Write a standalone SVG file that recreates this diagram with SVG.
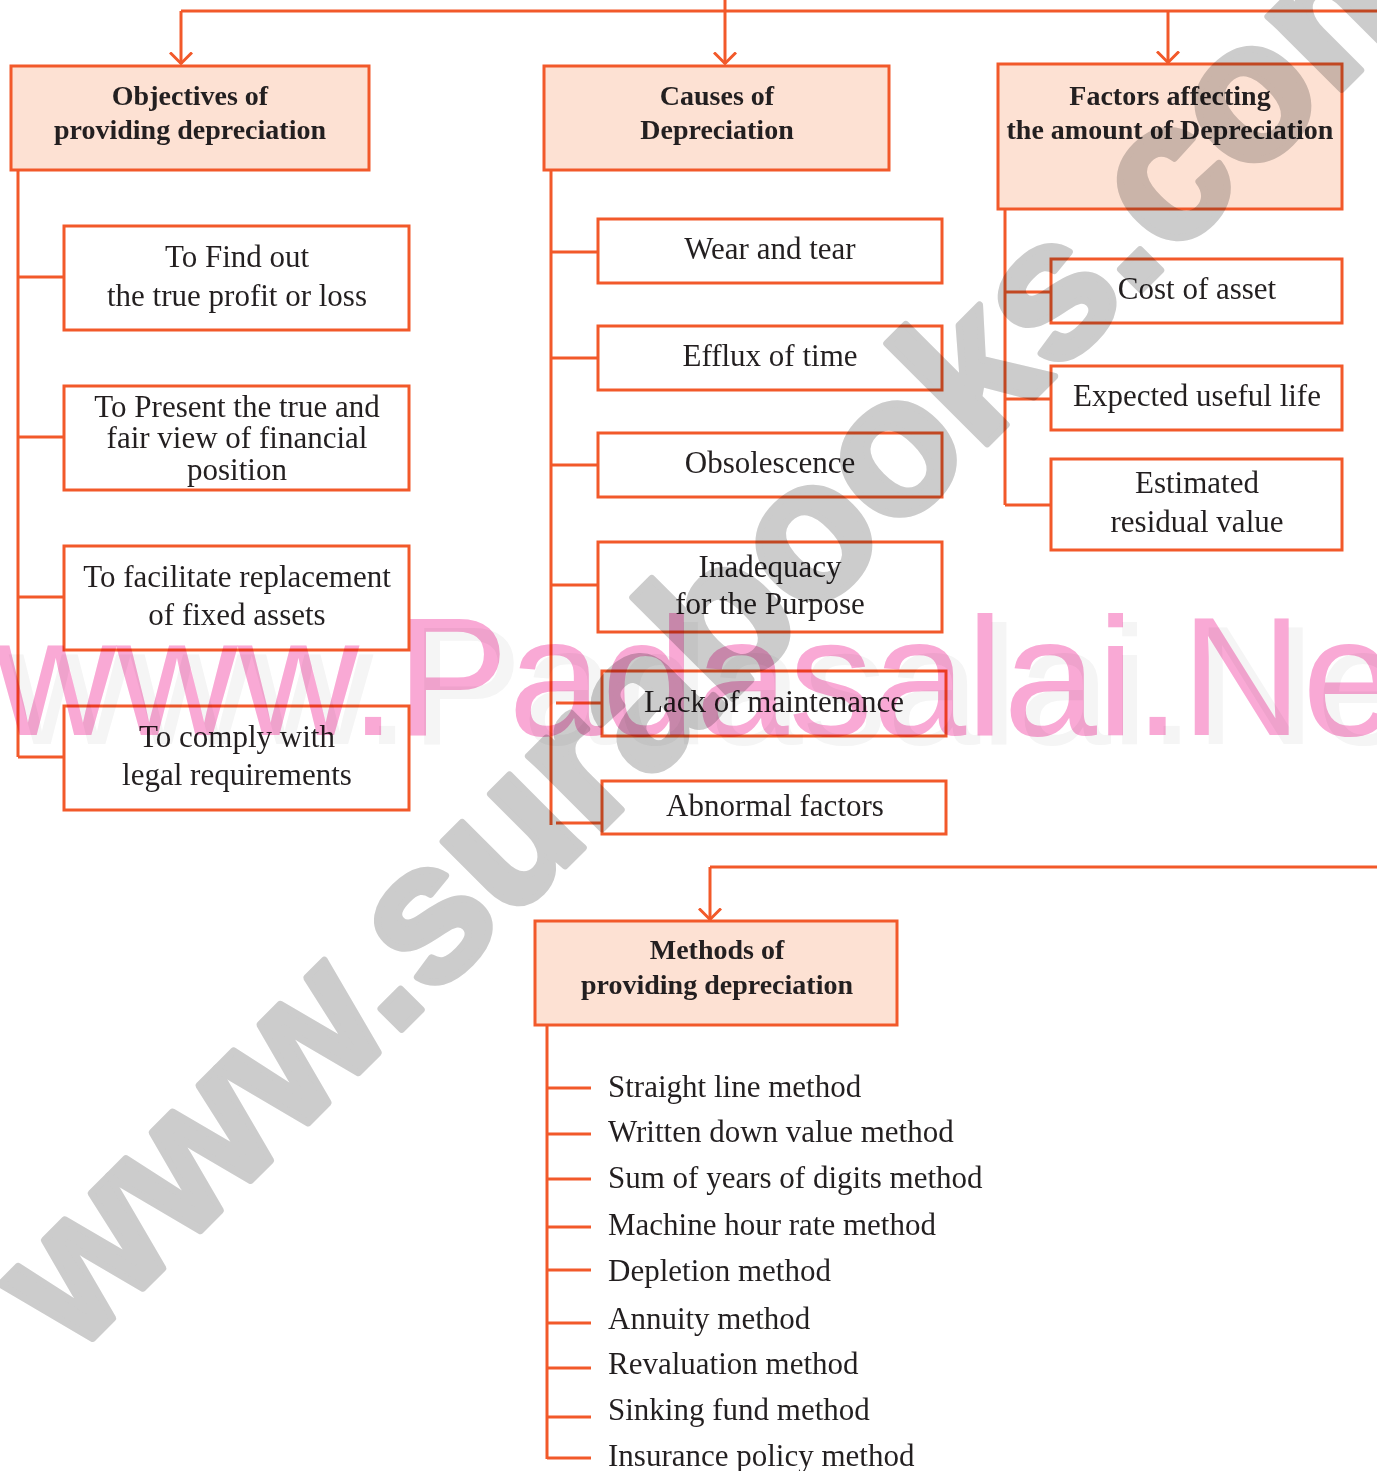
<svg xmlns="http://www.w3.org/2000/svg" width="1377" height="1471" viewBox="0 0 1377 1471">
<defs>
<style>
.box{fill:none;stroke:#f2592a;stroke-width:3}
.hdr{fill:#fde1d3;stroke:#f2592a;stroke-width:3}
.ln{fill:none;stroke:#f2592a;stroke-width:3}
.t{font-family:"Liberation Serif","Times New Roman",serif;font-size:31px;fill:#231f20;text-anchor:middle}
.tl{font-family:"Liberation Serif","Times New Roman",serif;font-size:31px;fill:#231f20}
.h{font-family:"Liberation Serif","Times New Roman",serif;font-size:28px;font-weight:bold;fill:#231f20;text-anchor:middle}
.wm1{font-family:"Liberation Sans",Arial,sans-serif;font-size:168px;fill:#f9a9d5;mix-blend-mode:multiply}
.wm0{font-family:"Liberation Sans",Arial,sans-serif;font-size:168px;fill:#f5f5f5;mix-blend-mode:multiply}
.wm2{font-family:"Liberation Sans",Arial,sans-serif;font-size:196px;font-weight:bold;fill:#cccccc;stroke:#cccccc;stroke-width:7;stroke-linejoin:round;mix-blend-mode:multiply}
</style>
<marker id="arr" viewBox="0 0 14 24" refX="12.5" refY="12" markerWidth="14" markerHeight="24" markerUnits="userSpaceOnUse" orient="auto">
<path d="M1,1 L12,12 L1,23" fill="none" stroke="#f2592a" stroke-width="3"/>
</marker>
</defs>
<rect width="1377" height="1471" fill="#fff"/>
<g id="connectors">
<path class="ln" d="M181,11 H1377"/>
<path class="ln" d="M181,11 V64" marker-end="url(#arr)"/>
<path class="ln" d="M725,0 V64" marker-end="url(#arr)"/>
<path class="ln" d="M1168,11 V63" marker-end="url(#arr)"/>
<path class="ln" d="M18,170 V757 M18,277 H64 M18,437 H64 M18,597 H64 M18,757 H64"/>
<path class="ln" d="M551,170 V825 M551,252 H598 M551,358 H598 M551,465 H598 M551,585 H598 M556,703 H602 M556,823 H602"/>
<path class="ln" d="M1005,209 V505 M1005,292 H1051 M1005,399 H1051 M1005,505 H1051"/>
<path class="ln" d="M1377,867 H710"/>
<path class="ln" d="M710,867 V920" marker-end="url(#arr)"/>
<path class="ln" d="M547,1025 V1459 M547,1088 H591 M547,1134 H591 M547,1179 H591 M547,1227 H591 M547,1270 H591 M547,1323 H591 M547,1368 H591 M547,1417 H591 M547,1458 H591"/>
</g>
<g id="objectives">
<rect class="hdr" x="11" y="66" width="358" height="104"/>
<text class="h" x="190" y="105">Objectives of</text>
<text class="h" x="190" y="139">providing depreciation</text>
</g>
<g id="obj1"><rect class="box" x="64" y="226" width="345" height="104"/>
<text class="t" x="237" y="267">To Find out</text><text class="t" x="237" y="306">the true profit or loss</text></g>
<g id="obj2"><rect class="box" x="64" y="386" width="345" height="104"/>
<text class="t" x="237" y="417">To Present the true and</text><text class="t" x="237" y="448">fair view of financial</text><text class="t" x="237" y="480">position</text></g>
<g id="obj3"><rect class="box" x="64" y="546" width="345" height="104"/>
<text class="t" x="237" y="587">To facilitate replacement</text><text class="t" x="237" y="625">of fixed assets</text></g>
<g id="obj4"><rect class="box" x="64" y="706" width="345" height="104"/>
<text class="t" x="237" y="747">To comply with</text><text class="t" x="237" y="785">legal requirements</text></g>
<g id="causes">
<rect class="hdr" x="544" y="66" width="345" height="104"/>
<text class="h" x="717" y="105">Causes of</text>
<text class="h" x="717" y="139">Depreciation</text>
</g>
<g id="c1"><rect class="box" x="598" y="219" width="344" height="64"/><text class="t" x="770" y="259">Wear and tear</text></g>
<g id="c2"><rect class="box" x="598" y="326" width="344" height="64"/><text class="t" x="770" y="366">Efflux of time</text></g>
<g id="c3"><rect class="box" x="598" y="433" width="344" height="64"/><text class="t" x="770" y="473">Obsolescence</text></g>
<g id="c4"><rect class="box" x="598" y="542" width="344" height="90"/><text class="t" x="770" y="577">Inadequacy</text><text class="t" x="770" y="614">for the Purpose</text></g>
<g id="c5"><rect class="box" x="602" y="671" width="344" height="65"/><text class="t" x="774" y="712">Lack of maintenance</text></g>
<g id="c6"><rect class="box" x="602" y="781" width="344" height="53"/><text class="t" x="775" y="816">Abnormal factors</text></g>
<g id="factors">
<rect class="hdr" x="998" y="64" width="344" height="145"/>
<text class="h" x="1170" y="105">Factors affecting</text>
<text class="h" x="1170" y="139">the amount of Depreciation</text>
</g>
<g id="f1"><rect class="box" x="1051" y="259" width="291" height="64"/><text class="t" x="1197" y="299">Cost of asset</text></g>
<g id="f2"><rect class="box" x="1051" y="366" width="291" height="64"/><text class="t" x="1197" y="406">Expected useful life</text></g>
<g id="f3"><rect class="box" x="1051" y="459" width="291" height="91"/><text class="t" x="1197" y="493">Estimated</text><text class="t" x="1197" y="532">residual value</text></g>
<g id="methods">
<rect class="hdr" x="535" y="921" width="362" height="104"/>
<text class="h" x="717" y="959">Methods of</text>
<text class="h" x="717" y="994">providing depreciation</text>
</g>
<g id="method-list">
<text class="tl" x="608" y="1097">Straight line method</text>
<text class="tl" x="608" y="1142">Written down value method</text>
<text class="tl" x="608" y="1188">Sum of years of digits method</text>
<text class="tl" x="608" y="1235">Machine hour rate method</text>
<text class="tl" x="608" y="1281">Depletion method</text>
<text class="tl" x="608" y="1329">Annuity method</text>
<text class="tl" x="608" y="1374">Revaluation method</text>
<text class="tl" x="608" y="1420">Sinking fund method</text>
<text class="tl" x="608" y="1466">Insurance policy method</text>
</g>
<g id="watermarks">
<text class="wm0" x="9" y="744">www.Padasalai.Net</text>
<text class="wm1" x="-5" y="735">www.Padasalai.Net</text>
<text class="wm2" transform="translate(74,1357) rotate(-45)">www.surabooks.com</text>
</g>
</svg>
